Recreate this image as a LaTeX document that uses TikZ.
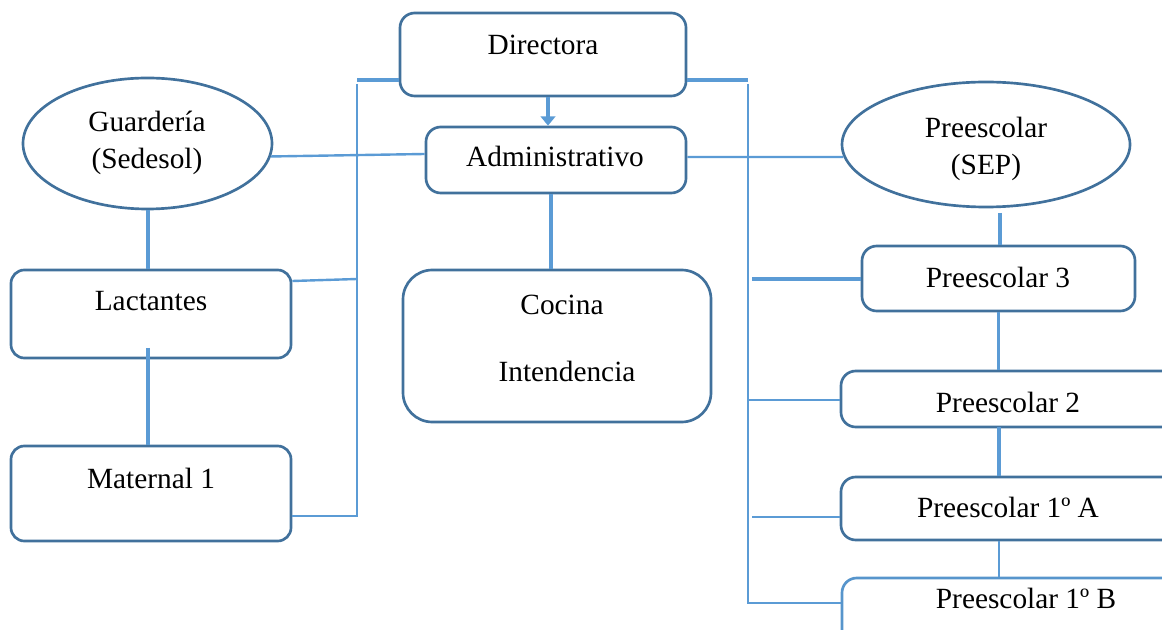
\documentclass[tikz,border=0pt]{standalone}
\usepackage{fontspec}
\setmainfont{Liberation Serif}
\usetikzlibrary{fit,shapes.geometric,arrows.meta,calc}
\definecolor{bord}{HTML}{41719C}
\definecolor{conn}{HTML}{5B9BD5}
\begin{document}
\begin{tikzpicture}[x=0.75pt,y=-0.75pt,
  box/.style={draw=bord,line width=2pt,rounded corners=11pt,inner sep=0pt},
  ell/.style={draw=bord,line width=2pt,ellipse,inner sep=0pt},
  txt/.style={anchor=base,inner sep=0pt,font=\fontsize{22}{26}\selectfont},
  thickc/.style={draw=conn,line width=3pt},
  thinc/.style={draw=conn,line width=1.8pt}]
\useasboundingbox (0,0) rectangle (1162,630);
\clip (0,0) rectangle (1162,630);
% boxes
\node[box,fit={(400,13)(686,96)}] (dir) {};
\node[txt] (dirt) at (543,55) {Directora};
\node[box,fit={(426,127)(686,193)}] (adm) {};
\node[txt] (admt) at (555,167) {Administrativo};
\node[ell,minimum width=186.75pt,minimum height=98.25pt] (gua) at (147.5,143.5) {};
\node[txt] (guat1) at (147,132) {Guardería};
\node[txt] (guat2) at (147,169) {(Sedesol)};
\node[box,rounded corners=10pt,fit={(11,270)(291,358)}] (lac) {};
\node[txt] (lact) at (151,311) {Lactantes};
\node[box,rounded corners=10pt,fit={(11,446)(291,541)}] (mat) {};
\node[txt] (matt) at (151,488) {Maternal 1};
\node[box,rounded corners=22pt,fit={(403,270)(711,422)}] (coc) {};
\node[txt] (coct1) at (562,315) {Cocina};
\node[txt] (coct2) at (567,382) {Intendencia};
\node[ell,minimum width=216pt,minimum height=93.75pt] (pre) at (986,144.5) {};
\node[txt] (pret1) at (986,138) {Preescolar};
\node[txt] (pret2) at (986,175) {(SEP)};
\node[box,fit={(862,246)(1135,311)}] (p3) {};
\node[txt] (p3t) at (998,288) {Preescolar 3};
\node[box,fit={(841,371)(1210,427)}] (p2) {};
\node[txt] (p2t) at (1008,412) {Preescolar 2};
\node[box,fit={(841,477)(1210,540)}] (p1a) {};
\node[txt] (p1at) at (1008,517) {Preescolar 1º A};
\node[box,draw=conn!85!bord,fit={(842,578)(1210,670)}] (p1b) {};
\node[txt] (p1bt) at (1026,608) {Preescolar 1º B};
% coordinates on trunks
\coordinate (lt) at (357,80);
\coordinate (lt2) at (357,84);
\coordinate (lb) at (357,516);
\coordinate (ll) at (357,279);
\coordinate (rt) at (748,80);
\coordinate (rt2) at (748,84);
\coordinate (rb) at (748,603);
\coordinate (r3) at (752,279);
\coordinate (r2) at (748,400);
\coordinate (r1) at (752,517);
\coordinate (lm) at (148,348);
\coordinate (ps) at (1000,213);
\coordinate (x2) at (999,427);
% left side
\draw[thickc] (lt) -- (lt -| dir.west);
\draw[thinc] (lt2) -- (lb) -- (lb -| mat.east);
\draw[thinc] ([yshift=24.75pt]lac.east) -- (ll);
\draw[thinc] (gua.354) -- ([yshift=4.5pt]adm.west);
\draw[thickc] (gua.south) -- (gua.south |- lac.north);
\draw[thickc] (lm) -- (lm |- mat.north);
% center
\draw[thickc,-{Triangle[width=11pt,length=7pt]}] ([xshift=3.75pt]dir.south) -- ([xshift=3.75pt]dir.south |- adm.north);
\draw[thickc] ([xshift=-3.75pt]adm.south) -- ([xshift=-3.75pt]adm.south |- coc.north);
% right side
\draw[thickc] (dir.east |- rt) -- (rt);
\draw[thinc] (rt2) -- (rb) -- (rb -| p1b.west);
\draw[thinc] ([yshift=2.25pt]adm.east) -- (pre.185);
\draw[thickc] (ps) -- (ps |- p3.north);
\draw[thickc] (r3) -- (r3 -| p3.west);
\draw[thinc] (r2) -- (r2 -| p2.west);
\draw[thinc] (r1) -- (r1 -| p1a.west);
\draw[thinc] (p3.south) -- (p3.south |- p2.north);
\draw[thickc] (x2) -- (x2 |- p1a.north);
\draw[thinc] (p1a.south -| x2) -- (x2 |- p1b.north);
\end{tikzpicture}
\end{document}
